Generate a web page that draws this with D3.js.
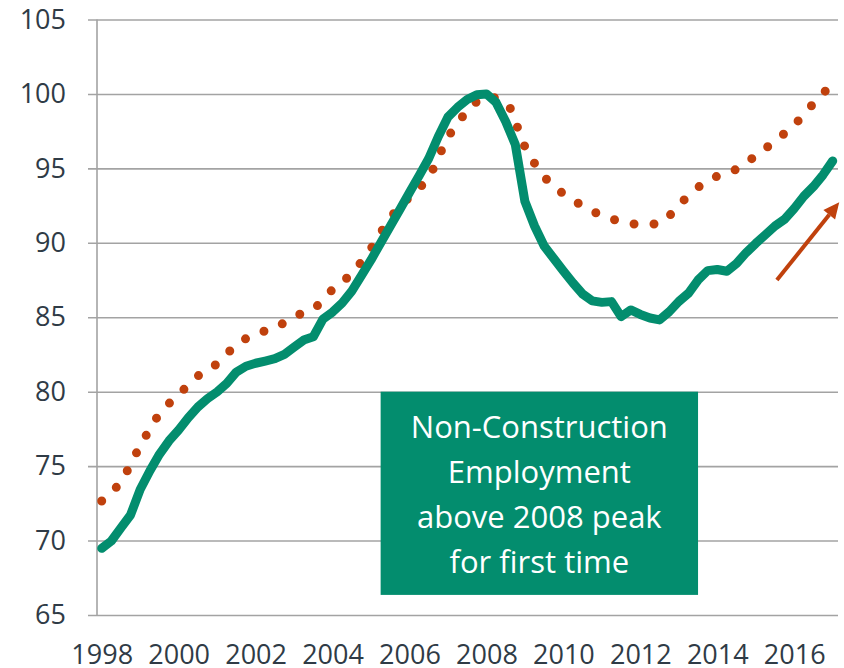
<!DOCTYPE html>
<html>
<head>
<meta charset="utf-8">
<script src="https://cdn.jsdelivr.net/npm/d3@7/dist/d3.min.js"></script>
<style>
  html, body { margin: 0; padding: 0; background: #ffffff; }
  svg { display: block; }
</style>
</head>
<body>
<svg id="chart" width="844" height="668"></svg>
<script>
// ---- Data ----
const xTickYears = [1998, 2000, 2002, 2004, 2006, 2008, 2010, 2012, 2014, 2016];
const yTickValues = [65, 70, 75, 80, 85, 90, 95, 100, 105];

// Non-construction employment index (quarterly, 1998Q1 .. 2017Q1)
const greenStartYear = 1998;
const greenValues = [
  69.48, 69.97, 70.85, 71.72, 73.43, 74.67, 75.79, 76.70,
  77.43, 78.25, 78.97, 79.53, 79.99, 80.56, 81.32, 81.71,
  81.91, 82.06, 82.22, 82.51, 82.99, 83.47, 83.69, 84.88,
  85.35, 85.96, 86.76, 87.79, 88.85, 89.99, 91.11, 92.24,
  93.38, 94.50, 95.66, 97.14, 98.45, 99.10, 99.62, 99.95,
  100.00, 99.43, 98.15, 96.60, 92.78, 91.13, 89.79, 88.94,
  88.11, 87.30, 86.56, 86.10, 86.00, 86.05, 85.04, 85.49,
  85.19, 84.95, 84.82, 85.37, 86.06, 86.61, 87.50, 88.13,
  88.21, 88.09, 88.61, 89.34, 89.96, 90.54, 91.13, 91.58,
  92.31, 93.13, 93.78, 94.57, 95.50
];

// Dotted series (semiannual readings, 1998.0 .. 2017.0)
const orangeStartYear = 1998;
const orangeValues = [
  72.66, 73.98, 76.35, 78.50, 79.80, 81.05, 81.89, 83.14,
  83.89, 84.27, 85.06, 85.55, 86.86, 87.95, 89.62, 91.67,
  93.08, 94.43, 97.07, 98.83, 99.80, 99.45, 96.46, 94.45,
  93.29, 92.49, 91.84, 91.44, 91.23, 91.30, 92.54, 93.72,
  94.48, 94.95, 95.85, 96.84, 97.92, 99.36, 100.70
];

const annotationLines = ["Non-Construction", "Employment", "above 2008 peak", "for first time"];
const annotationBox = { x0: 2005.25, x1: 2013.5, y0: 80, y1: 66.35 };
const arrowFrom = [2015.55, 87.5];
const arrowTo = [2017.17, 92.72];

// ---- Styles ----
const GREEN = "#038d6e";
const ORANGE = "#c0410d";
const GRID = "#a3a3a3";
const TEXT = "#2f3b46";
const FONT = "'Open Sans', 'DejaVu Sans', sans-serif";

// ---- Scales ----
const x = d3.scaleLinear().domain([1998, 2017]).range([101.7, 832.7]);
const y = d3.scaleLinear().domain([65, 105]).range([615, 19.5]);

const svg = d3.select("#chart");

// Y axis with gridlines
const yAxis = d3.axisLeft(y)
  .tickValues(yTickValues)
  .tickSizeInner(-750)
  .tickSizeOuter(0)
  .tickPadding(22)
  .tickFormat(d3.format("d"));

const gy = svg.append("g")
  .attr("transform", "translate(88,0)")
  .call(yAxis);
gy.select(".domain").remove();
gy.selectAll(".tick line").attr("stroke", GRID).attr("stroke-width", 1.6);
gy.selectAll(".tick text")
  .attr("fill", TEXT)
  .style("font-family", FONT)
  .style("font-size", "27px");

// vertical axis line
svg.append("line")
  .attr("x1", 97).attr("x2", 97)
  .attr("y1", y(105)).attr("y2", y(65))
  .attr("stroke", GRID).attr("stroke-width", 1.6);

// X axis labels
const xAxis = d3.axisBottom(x)
  .tickValues(xTickYears)
  .tickSize(0)
  .tickPadding(30)
  .tickFormat(d3.format("d"));
const gx = svg.append("g")
  .attr("transform", `translate(0,${y(65)})`)
  .call(xAxis);
gx.select(".domain").remove();
gx.selectAll(".tick text")
  .attr("fill", TEXT)
  .style("font-family", FONT)
  .style("font-size", "27px");

// Series
const greenData = greenValues.map((v, i) => ({ t: greenStartYear + i / 4, v }));
const orangeData = orangeValues.map((v, i) => ({ t: orangeStartYear + i / 2, v }));

const line = d3.line().x(d => x(d.t)).y(d => y(d.v));

svg.append("path")
  .datum(orangeData)
  .attr("d", line.curve(d3.curveMonotoneX))
  .attr("fill", "none")
  .attr("stroke", ORANGE)
  .attr("stroke-width", 9)
  .attr("stroke-linecap", "round")
  .attr("stroke-dasharray", "0 20");

svg.append("path")
  .datum(greenData)
  .attr("d", d3.line().x(d => x(d.t)).y(d => y(d.v)))
  .attr("fill", "none")
  .attr("stroke", GREEN)
  .attr("stroke-width", 9)
  .attr("stroke-linejoin", "round")
  .attr("stroke-linecap", "round");

// Annotation box
const bx0 = x(annotationBox.x0), bx1 = x(annotationBox.x1);
const by0 = y(annotationBox.y0), by1 = y(annotationBox.y1);
svg.append("rect")
  .attr("x", bx0).attr("y", by0)
  .attr("width", bx1 - bx0).attr("height", by1 - by0)
  .attr("fill", GREEN);

const cx = (bx0 + bx1) / 2;
svg.append("g").selectAll("text")
  .data(annotationLines)
  .join("text")
  .attr("x", cx)
  .attr("y", (d, i) => by0 + 46 + i * 45)
  .attr("text-anchor", "middle")
  .attr("fill", "#ffffff")
  .style("font-family", FONT)
  .style("font-size", "31px")
  .text(d => d);

// Arrow
const ax0 = x(arrowFrom[0]), ay0 = y(arrowFrom[1]);
const ax1 = x(arrowTo[0]), ay1 = y(arrowTo[1]);
const ang = Math.atan2(ay1 - ay0, ax1 - ax0);
const headLen = 16, headHalf = 7.5;
const bxh = ax1 - headLen * Math.cos(ang), byh = ay1 - headLen * Math.sin(ang);
svg.append("line")
  .attr("x1", ax0).attr("y1", ay0)
  .attr("x2", bxh).attr("y2", byh)
  .attr("stroke", ORANGE).attr("stroke-width", 4);
svg.append("polygon")
  .attr("points", [
    [ax1, ay1],
    [bxh + headHalf * Math.sin(ang), byh - headHalf * Math.cos(ang)],
    [bxh - headHalf * Math.sin(ang), byh + headHalf * Math.cos(ang)]
  ].map(p => p.join(",")).join(" "))
  .attr("fill", ORANGE);
</script>
</body>
</html>
